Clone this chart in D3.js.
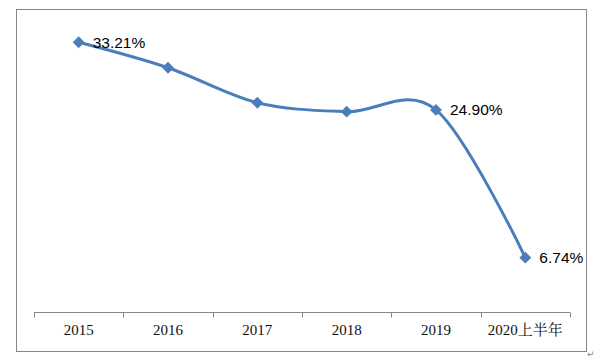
<!DOCTYPE html>
<html><head><meta charset="utf-8">
<script src="https://cdn.jsdelivr.net/npm/d3@7"></script>
<style>body{margin:0;background:#fff}svg{display:block}</style>
</head><body>
<svg id="c" width="600" height="361"></svg>
<script>
const categories = ["2015","2016","2017","2018","2019","2020上半年"];
const values = [33.21, 30.08, 25.78, 24.68, 24.90, 6.74];
const labels = ["33.21%", null, null, null, "24.90%", "6.74%"];

const pts = categories.map((c,i)=>({c, v:values[i], lab:labels[i]}));

const svg = d3.select("#c");
svg.append("rect").attr("x",16.5).attr("y",9.5).attr("width",570).attr("height",342)
  .attr("fill","#fff").attr("stroke","#868686").attr("stroke-width",1);

const x = d3.scaleBand().domain(categories).range([34,570]);
const y = d3.scaleLinear().domain([0,35]).range([312.5,27.7]);

const g = svg.append("g").attr("transform","translate(0,312.5)");
g.append("line").attr("x1",34).attr("x2",570).attr("stroke","#868686");
const edges = categories.map(c=>x(c)).concat([x.range()[1]]);
g.selectAll("line.tk").data(edges).join("line").attr("class","tk")
  .attr("x1",d=>Math.round(d)+0.5).attr("x2",d=>Math.round(d)+0.5).attr("y1",0).attr("y2",5)
  .attr("stroke","#868686");
g.selectAll("text").data(categories).join("text")
  .attr("x",d=>x(d)+x.bandwidth()/2).attr("y",22)
  .attr("text-anchor","middle").attr("font-family","'Liberation Serif','Noto Serif CJK SC','Noto Sans CJK SC',serif")
  .attr("font-size",15).attr("fill","#111").text(d=>d);

const cx = d=>x(d.c)+x.bandwidth()/2;
const line = d3.line().x(cx).y(d=>y(d.v)).curve(d3.curveCatmullRom.alpha(0));
svg.append("path").datum(pts).attr("d",line).attr("fill","none")
  .attr("stroke","#4A7EBB").attr("stroke-width",3).attr("stroke-linejoin","round");

const sym = d3.symbol().type(d3.symbolDiamond2).size(90);
svg.selectAll("path.m").data(pts).join("path").attr("class","m")
  .attr("transform",d=>`translate(${cx(d)},${y(d.v)})`)
  .attr("d",sym).attr("fill","#4A7EBB");

svg.selectAll("text.lb").data(pts.filter(d=>d.lab)).join("text").attr("class","lb")
  .attr("x",d=>cx(d)+14).attr("y",d=>y(d.v)+5.5)
  .attr("font-family","'Liberation Sans',Arial,sans-serif").attr("font-size",15.5)
  .attr("fill","#000").text(d=>d.lab);

svg.append("text").attr("x",587).attr("y",357).attr("font-size",9).attr("fill","#888")
  .attr("font-family","'DejaVu Sans',sans-serif").text("↵");
</script>
</body></html>
